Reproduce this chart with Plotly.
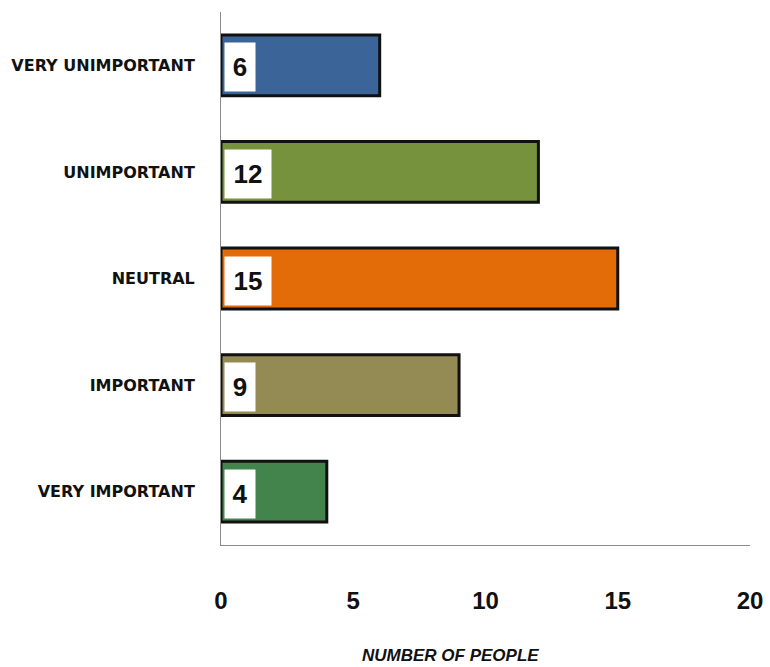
import plotly.graph_objects as go

# Survey responses: how important the topic is to respondents
categories = ["VERY UNIMPORTANT", "UNIMPORTANT", "NEUTRAL", "IMPORTANT", "VERY IMPORTANT"]
people = [6, 12, 15, 9, 4]
bar_colors = ["#3B6499", "#76923C", "#E36C09", "#948A54", "#43844C"]
x_ticks = [0, 5, 10, 15, 20]

fig = go.Figure(
    go.Bar(
        x=people,
        y=categories,
        orientation="h",
        marker=dict(color=bar_colors, line=dict(color="#111111", width=3)),
        hoverinfo="x+y",
    )
)

# Value labels in white boxes at the left end of each bar
for cat, val in zip(categories, people):
    label = str(val)
    fig.add_annotation(
        x=0, y=cat, xref="x", yref="y",
        text=f"<b>{label}</b>",
        showarrow=False,
        xanchor="left", yanchor="middle",
        xshift=3, yshift=-2,
        bgcolor="white",
        width=12 + 16 * len(label),
        height=46,
        align="center",
        borderpad=1,
        font=dict(family="Liberation Sans, Arial, sans-serif", size=26, color="#111111"),
    )

# Axis title below the tick labels
fig.add_annotation(
    x=0.433, y=0, xref="paper", yref="paper",
    xanchor="center", yanchor="middle", yshift=-110,
    text="<b><i>NUMBER OF PEOPLE</i></b>",
    showarrow=False,
    font=dict(family="Liberation Sans, Arial, sans-serif", size=17, color="#111111"),
)

fig.update_layout(
    width=770, height=667,
    margin=dict(l=221, r=20, t=12, b=122),
    paper_bgcolor="white",
    plot_bgcolor="white",
    bargap=0.43,
    showlegend=False,
    font=dict(family="Liberation Sans, Arial, sans-serif", color="#111111"),
)

fig.update_xaxes(
    range=[0, 20],
    tickvals=x_ticks,
    ticktext=[f"<b>{t}</b>" for t in x_ticks],
    tickfont=dict(size=24),
    showgrid=False,
    zeroline=False,
    showline=True, linecolor="#8C8C8C", linewidth=1,
    ticks="", ticklabelstandoff=34,
    automargin=False,
)

fig.update_yaxes(
    categoryorder="array",
    categoryarray=categories,
    autorange="reversed",
    tickvals=categories,
    ticktext=[f"<b>{c}</b>" for c in categories],
    tickfont=dict(family="DejaVu Sans, sans-serif", size=16),
    showgrid=False,
    zeroline=False,
    showline=True, linecolor="#8C8C8C", linewidth=1,
    ticks="", ticklabelstandoff=22,
    automargin=False,
)

fig.write_html("out.html")
